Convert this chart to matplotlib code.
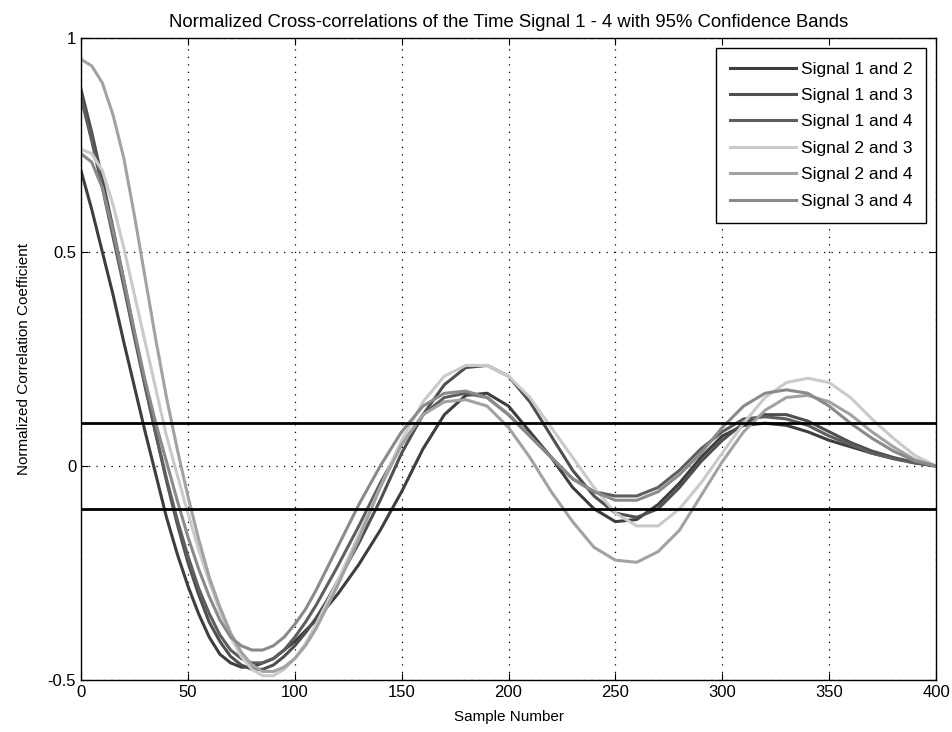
import numpy as np
import matplotlib
matplotlib.use("Agg")
import matplotlib.pyplot as plt

plt.rcParams['font.family'] = ['Liberation Sans', 'DejaVu Sans']

lags = list(range(0, 120, 5)) + list(range(120, 401, 10))

s12 = [0.69, 0.60, 0.50, 0.40, 0.29, 0.185, 0.08, -0.02, -0.12, -0.205, -0.28, -0.345,
       -0.40, -0.44, -0.46, -0.47, -0.47, -0.46, -0.45, -0.43, -0.41, -0.385, -0.36, -0.33,
       -0.30, -0.23, -0.15, -0.06, 0.04, 0.12, 0.165, 0.17, 0.14, 0.08, 0.02, -0.05, -0.10,
       -0.13, -0.125, -0.09, -0.04, 0.02, 0.07, 0.095, 0.10, 0.095, 0.08, 0.06, 0.045, 0.03,
       0.018, 0.008, 0.0]
s13 = [0.88, 0.78, 0.67, 0.555, 0.435, 0.31, 0.19, 0.075, -0.035, -0.135, -0.225, -0.30,
       -0.365, -0.41, -0.445, -0.465, -0.475, -0.475, -0.465, -0.445, -0.42, -0.39, -0.355, -0.315,
       -0.27, -0.18, -0.08, 0.03, 0.12, 0.19, 0.23, 0.235, 0.21, 0.15, 0.07, -0.01, -0.07,
       -0.11, -0.12, -0.10, -0.05, 0.01, 0.06, 0.10, 0.12, 0.12, 0.105, 0.08, 0.055, 0.035,
       0.02, 0.008, 0.0]
s14 = [0.86, 0.76, 0.65, 0.535, 0.42, 0.30, 0.185, 0.075, -0.03, -0.125, -0.21, -0.285,
       -0.345, -0.395, -0.43, -0.45, -0.46, -0.46, -0.45, -0.43, -0.40, -0.365, -0.325, -0.28,
       -0.235, -0.14, -0.04, 0.05, 0.12, 0.16, 0.17, 0.16, 0.12, 0.07, 0.02, -0.03, -0.06,
       -0.07, -0.07, -0.05, -0.01, 0.04, 0.08, 0.11, 0.115, 0.11, 0.095, 0.07, 0.05, 0.03,
       0.017, 0.007, 0.0]
s23 = [0.74, 0.73, 0.69, 0.61, 0.51, 0.40, 0.29, 0.18, 0.07, -0.02, -0.11, -0.195,
       -0.27, -0.34, -0.40, -0.445, -0.475, -0.49, -0.49, -0.475, -0.45, -0.415, -0.37, -0.32,
       -0.27, -0.16, -0.05, 0.06, 0.15, 0.21, 0.235, 0.235, 0.21, 0.16, 0.09, 0.02, -0.05,
       -0.11, -0.14, -0.14, -0.10, -0.04, 0.03, 0.10, 0.16, 0.195, 0.205, 0.195, 0.16, 0.11,
       0.065, 0.025, 0.0]
s24 = [0.95, 0.935, 0.895, 0.82, 0.72, 0.585, 0.44, 0.295, 0.16, 0.04, -0.07, -0.17,
       -0.26, -0.33, -0.39, -0.435, -0.465, -0.48, -0.48, -0.47, -0.45, -0.42, -0.38, -0.33,
       -0.28, -0.17, -0.05, 0.05, 0.12, 0.15, 0.155, 0.14, 0.09, 0.02, -0.06, -0.13, -0.19,
       -0.22, -0.225, -0.20, -0.15, -0.07, 0.01, 0.08, 0.13, 0.16, 0.165, 0.15, 0.12, 0.08,
       0.045, 0.015, 0.0]
s34 = [0.73, 0.71, 0.65, 0.55, 0.435, 0.315, 0.20, 0.10, 0.01, -0.08, -0.165, -0.24,
       -0.305, -0.36, -0.40, -0.42, -0.43, -0.43, -0.42, -0.40, -0.37, -0.335, -0.29, -0.24,
       -0.19, -0.09, 0.00, 0.08, 0.14, 0.17, 0.175, 0.16, 0.12, 0.07, 0.02, -0.03, -0.06,
       -0.08, -0.08, -0.06, -0.02, 0.03, 0.09, 0.14, 0.17, 0.178, 0.17, 0.14, 0.10, 0.065,
       0.035, 0.012, 0.0]

series = [s12, s13, s14, s23, s24, s34]
labels = ['Signal 1 and 2', 'Signal 1 and 3', 'Signal 1 and 4',
          'Signal 2 and 3', 'Signal 2 and 4', 'Signal 3 and 4']
colors = ['#3e3e3e', '#4f4f4f', '#5e5e5e', '#cacaca', '#a2a2a2', '#8a8a8a']
conf = 0.1

fig = plt.figure(figsize=(9.52, 7.32), dpi=100)
ax = fig.add_axes([81/952, 1-680/732, (936-81)/952, (680-38)/732])

for y, lab, c in zip(series, labels, colors):
    ax.plot(lags, y, color=c, lw=2.2, label=lab, solid_joinstyle='round')

ax.plot([0, 400], [conf, conf], color='black', lw=2.0)
ax.plot([0, 400], [-conf, -conf], color='black', lw=2.0)

ax.set_xlim(0, 400)
ax.set_ylim(-0.5, 1)
ax.set_xticks(range(0, 401, 50))
ax.set_yticks([-0.5, 0, 0.5, 1])
ax.set_yticklabels(['-0.5', '0', '0.5', '1'])
ax.tick_params(direction='in', length=5, labelsize=12, colors='black', top=True, right=True,
               labeltop=False, labelright=False)
ax.grid(True, color='black', linestyle=(0, (1, 5)), linewidth=0.9)
for sp in ax.spines.values():
    sp.set_linewidth(1.0)

ax.set_title('Normalized Cross-correlations of the Time Signal 1 - 4 with 95% Confidence Bands',
             fontsize=13.3, pad=8)
ax.set_xlabel('Sample Number', fontsize=11, labelpad=7)
ax.set_ylabel('Normalized Correlation Coefficient', fontsize=11, labelpad=12)

leg = ax.legend(loc='upper right', fontsize=12.5, fancybox=False, framealpha=1,
                edgecolor='black', handlelength=3.8, handletextpad=0.3, borderaxespad=0.55,
                labelspacing=0.65, borderpad=0.8)
leg.get_frame().set_linewidth(1.0)

fig.savefig('out.png', dpi=100)
